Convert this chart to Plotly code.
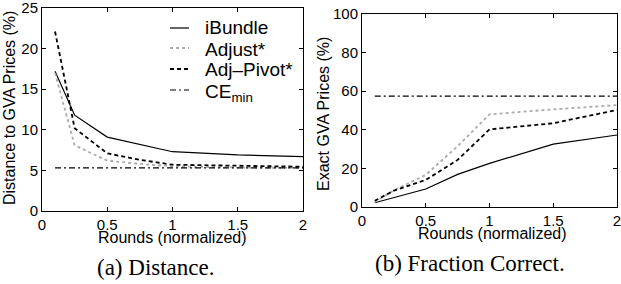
import plotly.graph_objects as go

W, H = 621, 284

rounds = [0.1, 0.25, 0.5, 0.75, 1.0, 1.5, 2.0]

# (a) Distance to GVA prices (%)
dist_ibundle = [17.2, 11.8, 9.1, 8.2, 7.3, 6.9, 6.7]
dist_adjust = [17.0, 8.1, 6.2, 5.8, 5.5, 5.35, 5.3]
dist_adjpivot = [22.1, 10.2, 7.1, 6.3, 5.7, 5.55, 5.45]
dist_cemin = [5.3, 5.3, 5.3, 5.3, 5.3, 5.3, 5.3]

# (b) Exact GVA prices (%)
exact_ibundle = [2.2, 5.0, 9.3, 16.9, 22.6, 32.6, 37.3]
exact_adjust = [2.5, 8.6, 16.6, 31.5, 48.0, 50.6, 52.8]
exact_adjpivot = [3.2, 8.5, 14.0, 24.4, 40.2, 43.4, 50.3]
exact_cemin = [57.5, 57.5, 57.5, 57.5, 57.5, 57.5, 57.5]

series_names = ["iBundle", "Adjust*", "Adj\u2013Pivot*", "CE<sub>min</sub>"]
x_ticks = [0, 0.5, 1, 1.5, 2]
x_ticklabels = ["0", "0.5", "1", "1.5", "2"]
dist_ticks = [0, 5, 10, 15, 20, 25]
exact_ticks = [0, 20, 40, 60, 80, 100]

styles = [
    dict(color="black", width=1.2, dash="solid"),
    dict(color="#aaaaaa", width=1.8, dash="dot"),
    dict(color="black", width=1.8, dash="4px,3px"),
    dict(color="black", width=1.2, dash="6px,3px,2px,3px"),
]

fig = go.Figure()
for ys, st, nm in zip([dist_ibundle, dist_adjust, dist_adjpivot, dist_cemin], styles, series_names):
    fig.add_trace(go.Scatter(x=rounds, y=ys, mode="lines", line=st, name=nm,
                             showlegend=False, xaxis="x", yaxis="y"))
for ys, st, nm in zip([exact_ibundle, exact_adjust, exact_adjpivot, exact_cemin], styles, series_names):
    fig.add_trace(go.Scatter(x=rounds, y=ys, mode="lines", line=st, name=nm,
                             showlegend=False, xaxis="x2", yaxis="y2"))

def px(x):
    return x / W

def py(y):
    return 1 - y / H

tickfont = dict(family="Liberation Sans, Arial, sans-serif", size=15, color="black")
axis_common = dict(showgrid=False, zeroline=False, showline=True, linecolor="black",
                   linewidth=1, mirror="ticks", ticks="inside", ticklen=4,
                   tickcolor="black", tickfont=tickfont, ticklabeloverflow="allow",
                   automargin=False)

fig.update_layout(
    width=W, height=H,
    margin=dict(l=0, r=0, t=0, b=0, autoexpand=False),
    paper_bgcolor="white", plot_bgcolor="white",
    showlegend=False,
    xaxis=dict(domain=[px(42), px(303)], range=[0, 2], tickvals=x_ticks,
               ticktext=x_ticklabels, anchor="y", ticklabelstandoff=0, **axis_common),
    yaxis=dict(domain=[py(211), py(8)], range=[0, 25], tickvals=dist_ticks,
               anchor="x", ticklabelstandoff=0, **axis_common),
    xaxis2=dict(domain=[px(362), px(617)], range=[0, 2], tickvals=x_ticks,
                ticktext=x_ticklabels, anchor="y2", ticklabelstandoff=0, **axis_common),
    yaxis2=dict(domain=[py(207), py(14)], range=[0, 100], tickvals=exact_ticks,
                anchor="x2", ticklabelstandoff=0, **axis_common),
)

sans = "Liberation Sans, Arial, sans-serif"
serif = "Liberation Serif, Times New Roman, serif"
ann = []
ann.append(dict(text="Distance to GVA Prices (%)", x=px(10), y=py(108), textangle=-90,
                font=dict(family=sans, size=16, color="black")))
ann.append(dict(text="Exact GVA Prices (%)", x=px(323), y=py(114), textangle=-90,
                font=dict(family=sans, size=16, color="black")))
ann.append(dict(text="Rounds (normalized)", x=px(172), y=py(237),
                font=dict(family=sans, size=16, color="black")))
ann.append(dict(text="Rounds (normalized)", x=px(492), y=py(233),
                font=dict(family=sans, size=16, color="black")))
ann.append(dict(text="(a) Distance.", x=px(156), y=py(267),
                font=dict(family=serif, size=23, color="black")))
ann.append(dict(text="(b) Fraction Correct.", x=px(470), y=py(263),
                font=dict(family=serif, size=23, color="black")))

# manual legend in panel (a)
sample_rows = [28, 48, 69, 90]
text_rows = [28, 49, 69, 93]
shapes = []
for nm, st, sy, ty in zip(series_names, styles, sample_rows, text_rows):
    shapes.append(dict(type="line", xref="paper", yref="paper",
                       x0=px(170), x1=px(189), y0=py(sy), y1=py(sy),
                       line=dict(color=st["color"], width=st["width"], dash=st["dash"])))
    ann.append(dict(text=nm, x=px(203), y=py(ty), xanchor="left",
                    font=dict(family=sans, size=19, color="black")))

for a in ann:
    a.setdefault("xref", "paper")
    a.setdefault("yref", "paper")
    a.setdefault("showarrow", False)
    a.setdefault("xanchor", "center")
    a.setdefault("yanchor", "middle")

fig.update_layout(annotations=ann, shapes=shapes)
fig.write_html("out.html", config={"displayModeBar": False},
               post_script="document.body.style.margin='0';")
